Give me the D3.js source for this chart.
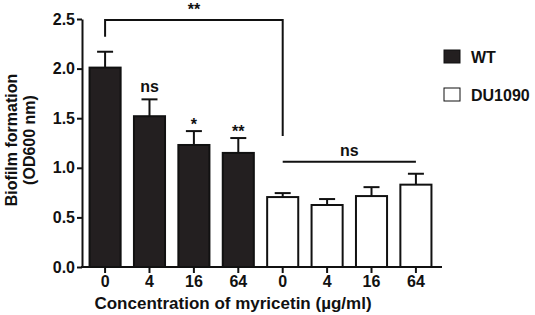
<!DOCTYPE html>
<html>
<head>
<meta charset="utf-8">
<script src="https://d3js.org/d3.v7.min.js"></script>
<style>
  body { margin: 0; background: #fff; }
  svg { display: block; font-family: "Liberation Sans", Arial, sans-serif; }
  .axis path, .axis line { stroke: #111; stroke-width: 2px; }
  .axis text { font-size: 16px; font-weight: bold; fill: #111; }
</style>
</head>
<body>
<div id="chart"></div>
<script>
// Data
const concentrations = ["0", "4", "16", "64"];
const strains = ["WT", "DU1090"];
const wtMeans = [2.01, 1.52, 1.23, 1.15];
const wtErrors = [0.16, 0.17, 0.14, 0.15];
const duMeans = [0.705, 0.625, 0.715, 0.83];
const duErrors = [0.04, 0.06, 0.09, 0.11];
const wtSig = ["", "ns", "*", "**"];

const bars = [];
concentrations.forEach((c, i) => bars.push({ id: "wt" + i, conc: c, strain: "WT", mean: wtMeans[i], err: wtErrors[i], sig: wtSig[i] }));
concentrations.forEach((c, i) => bars.push({ id: "du" + i, conc: c, strain: "DU1090", mean: duMeans[i], err: duErrors[i], sig: "" }));

const width = 535, height = 315;

const svg = d3.select("#chart").append("svg")
  .attr("width", width)
  .attr("height", height);

// Scales
const x = d3.scaleBand()
  .domain(bars.map(d => d.id))
  .range([82, 439])
  .paddingInner(0.3)
  .paddingOuter(0.17);

const y = d3.scaleLinear()
  .domain([0, 2.5])
  .range([267, 19]);

const fill = { "WT": "#231f20", "DU1090": "#ffffff" };

// Bars
svg.append("g")
  .selectAll("rect")
  .data(bars)
  .join("rect")
  .attr("x", d => x(d.id))
  .attr("y", d => y(d.mean))
  .attr("width", x.bandwidth())
  .attr("height", d => y(0) - y(d.mean))
  .attr("fill", d => fill[d.strain])
  .attr("stroke", "#111")
  .attr("stroke-width", 2);

// Error bars (upper only)
const eb = svg.append("g").attr("stroke", "#111").attr("stroke-width", 2);
eb.selectAll("line.v")
  .data(bars)
  .join("line")
  .attr("class", "v")
  .attr("x1", d => x(d.id) + x.bandwidth() / 2)
  .attr("x2", d => x(d.id) + x.bandwidth() / 2)
  .attr("y1", d => y(d.mean))
  .attr("y2", d => y(d.mean + d.err));
eb.selectAll("line.cap")
  .data(bars)
  .join("line")
  .attr("class", "cap")
  .attr("x1", d => x(d.id) + x.bandwidth() / 2 - 8)
  .attr("x2", d => x(d.id) + x.bandwidth() / 2 + 8)
  .attr("y1", d => y(d.mean + d.err))
  .attr("y2", d => y(d.mean + d.err));

// Significance labels above WT bars
svg.append("g")
  .selectAll("text")
  .data(bars.filter(d => d.sig))
  .join("text")
  .attr("x", d => x(d.id) + x.bandwidth() / 2)
  .attr("y", d => y(d.mean + d.err) - (d.sig === "ns" ? 7 : 1))
  .attr("text-anchor", "middle")
  .attr("font-size", 16)
  .attr("font-weight", "bold")
  .attr("fill", "#111")
  .text(d => d.sig);

// Axes
const yAxis = d3.axisLeft(y)
  .tickValues([0, 0.5, 1, 1.5, 2, 2.5])
  .tickFormat(d3.format(".1f"))
  .tickSize(5)
  .tickSizeOuter(0)
  .tickPadding(2);

svg.append("g")
  .attr("class", "axis")
  .attr("transform", "translate(82,0)")
  .call(yAxis);

const xAxis = d3.axisBottom(x)
  .tickFormat(id => bars.find(b => b.id === id).conc)
  .tickSize(6)
  .tickSizeOuter(0)
  .tickPadding(3);

svg.append("g")
  .attr("class", "axis")
  .attr("transform", "translate(0,267)")
  .call(xAxis)
  .call(g => g.select(".domain").attr("d", "M81,0H442"));

// Comparison brackets
const bx = id => x(id) + x.bandwidth() / 2;
svg.append("path")
  .attr("d", `M${bx("wt0")},${y(2.32)}V${y(2.49)}H${bx("du0")}V${y(1.32)}`)
  .attr("fill", "none")
  .attr("stroke", "#111")
  .attr("stroke-width", 2);
svg.append("text")
  .attr("x", (bx("wt0") + bx("du0")) / 2)
  .attr("y", 15)
  .attr("text-anchor", "middle")
  .attr("font-size", 16)
  .attr("font-weight", "bold")
  .attr("fill", "#111")
  .text("**");

svg.append("line")
  .attr("x1", bx("du0")).attr("x2", bx("du3"))
  .attr("y1", y(1.06)).attr("y2", y(1.06))
  .attr("stroke", "#111")
  .attr("stroke-width", 2);
svg.append("text")
  .attr("x", (bx("du0") + bx("du3")) / 2)
  .attr("y", y(1.06) - 6)
  .attr("text-anchor", "middle")
  .attr("font-size", 16)
  .attr("font-weight", "bold")
  .attr("fill", "#111")
  .text("ns");

// Axis titles
svg.append("text")
  .attr("x", 233)
  .attr("y", 309)
  .attr("text-anchor", "middle")
  .attr("font-size", 17)
  .attr("font-weight", "bold")
  .attr("fill", "#111")
  .text("Concentration of myricetin (\u00b5g/ml)");

const yTitle = svg.append("text")
  .attr("transform", "translate(17,140) rotate(-90)")
  .attr("text-anchor", "middle")
  .attr("font-size", 16)
  .attr("font-weight", "bold")
  .attr("fill", "#111");
yTitle.append("tspan").attr("x", 0).attr("dy", 0).text("Biofilm formation");
yTitle.append("tspan").attr("x", 0).attr("dy", 18).text("(OD600 nm)");

// Legend
const legend = svg.append("g")
  .selectAll("g")
  .data(strains)
  .join("g")
  .attr("transform", (d, i) => `translate(444,${50 + i * 38})`);
legend.append("rect")
  .attr("width", 16)
  .attr("height", 13)
  .attr("fill", d => fill[d])
  .attr("stroke", "#111")
  .attr("stroke-width", 1);
legend.append("text")
  .attr("x", 27)
  .attr("y", 13)
  .attr("font-size", 16)
  .attr("font-weight", "bold")
  .attr("fill", "#111")
  .text(d => d);
</script>
</body>
</html>
